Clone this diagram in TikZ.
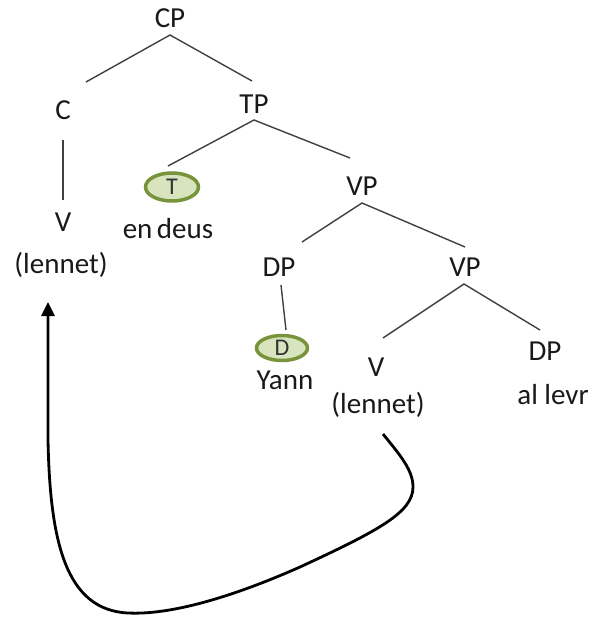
\documentclass[tikz,border=0pt]{standalone}
\usepackage{fontspec}
\setmainfont{Carlito}
\usetikzlibrary{arrows.meta,shapes.geometric}
\definecolor{headborder}{HTML}{77933C}
\definecolor{headfill}{HTML}{D7E4BD}
\begin{document}
\begin{tikzpicture}[x=1pt,y=-1pt,
  lab/.style={font=\fontsize{29}{32}\selectfont, inner sep=0pt, text=black!90},
  hl/.style={font=\fontsize{24}{26}\selectfont, inner sep=0pt, text=black!80},
  br/.style={draw=black!75, line width=1.4pt},
  head/.style={ellipse, draw=headborder, line width=3.5pt, fill=headfill, inner sep=0pt, minimum width=51pt, minimum height=25pt},
  mv/.style={line width=2.8pt, -{Triangle[width=13pt,length=14pt]}}]
\useasboundingbox (0,0) rectangle (592,618);
% labels
\node[lab] (CP) at (170,18) {CP};
\node[lab] (C) at (63,110) {C};
\node[lab] (TP) at (254,104) {TP};
\node[lab] (V1) at (63,222) {V};
\node[lab] (L1) at (61,265) {(lennet)};
\node[head, minimum width=53pt, minimum height=28pt] (T) at (172,187) {};
\node[hl] (Tl) at (T) {T};
\node[lab] (endeus) at (168,229) {en\hspace{-2pt} deus};
\node[lab] (VP1) at (362,186) {VP};
\node[lab] (DP1) at (279,267) {DP};
\node[lab] (VP2) at (465,267) {VP};
\node[head] (D) at (282,348) {};
\node[hl] (Dl) at (D) {D};
\node[lab] (Yann) at (285,380) {Yann};
\node[lab] (V2) at (376,367) {V};
\node[lab] (L2) at (378,405) {(lennet)};
\node[lab] (DP2) at (545,351) {DP};
\node[lab] (alevr) at (553,395) {al levr};
% branch points
\coordinate (cpA) at (170,35);
\coordinate (cpL) at (86,82);
\coordinate (cpR) at (252,81);
\coordinate (tpA) at (254,120);
\coordinate (tpL) at (168,166);
\coordinate (tpR) at (350,158);
\coordinate (vpA) at (362,203);
\coordinate (vpL) at (302,242);
\coordinate (vpR) at (465,247);
\coordinate (vp2A) at (464,284);
\coordinate (vp2L) at (383,338);
\coordinate (vp2R) at (540,330);
\coordinate (cT) at (63,140);
\coordinate (cB) at (63,200);
\coordinate (dpT) at (281,285);
\coordinate (dpB) at (286,330);
\draw[br] (cpL) -- (cpA) -- (cpR);
\draw[br] (tpL) -- (tpA) -- (tpR);
\draw[br] (vpL) -- (vpA) -- (vpR);
\draw[br] (vp2L) -- (vp2A) -- (vp2R);
\draw[br] (cT) -- (cB);
\draw[br] (dpT) -- (dpB);
% movement arrow
\coordinate (mvS) at (383,434);
\coordinate (mvE) at (48,302);
\draw[mv] (mvS) .. controls (400,455) and (413,470) .. (413,487)
  .. controls (413,512) and (380,530) .. (300,567)
  .. controls (230,598) and (170,615) .. (128,613)
  .. controls (65,610) and (50,540) .. (48,440)
  -- (mvE);
\end{tikzpicture}
\end{document}
